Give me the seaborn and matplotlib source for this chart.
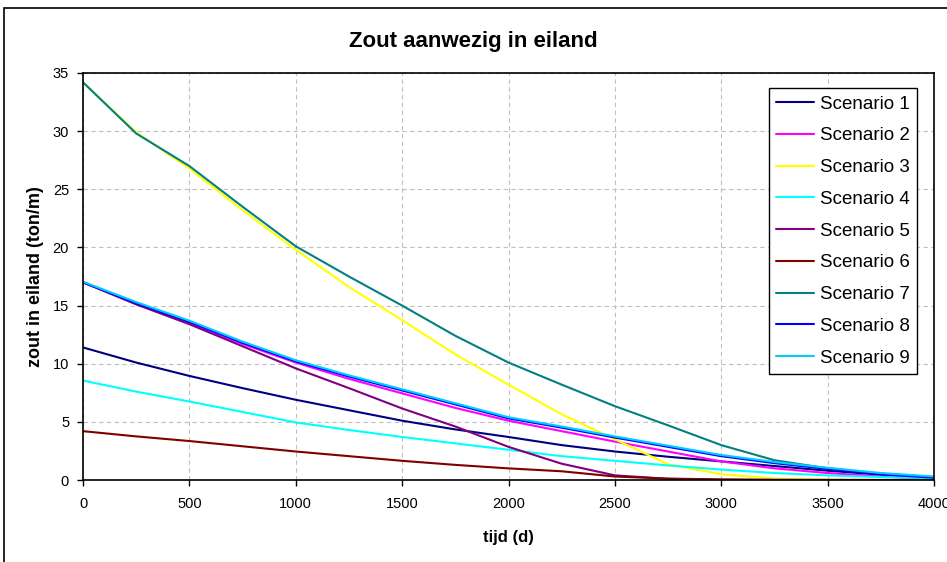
import numpy as np
import pandas as pd
import matplotlib
matplotlib.use('Agg')
import matplotlib.pyplot as plt
from matplotlib.patches import Rectangle
import seaborn as sns

# time axis (days)
tijd = [0, 250, 500, 750, 1000, 1250, 1500, 1750, 2000, 2250, 2500, 2750, 3000, 3250, 3500, 3750, 4000]

# salt in island (ton/m)
scenario_1 = [11.4, 10.1, 8.95, 7.9, 6.9, 6.0, 5.1, 4.35, 3.7, 3.0, 2.45, 2.0, 1.6, 1.2, 0.8, 0.45, 0.15]
scenario_2 = [17.0, 15.2, 13.5, 11.7, 10.1, 8.7, 7.45, 6.2, 5.1, 4.2, 3.3, 2.45, 1.6, 1.0, 0.6, 0.3, 0.1]
scenario_3 = [34.2, 29.9, 26.8, 23.2, 19.8, 16.6, 13.75, 10.8, 8.2, 5.65, 3.5, 1.35, 0.5, 0.12, 0.03, 0.0, 0.0]
scenario_4 = [8.55, 7.6, 6.75, 5.85, 4.95, 4.3, 3.7, 3.15, 2.6, 2.05, 1.65, 1.25, 0.9, 0.6, 0.4, 0.25, 0.15]
scenario_5 = [17.0, 15.1, 13.4, 11.5, 9.6, 7.9, 6.15, 4.6, 2.85, 1.4, 0.4, 0.1, 0.02, 0.0, 0.0, 0.0, 0.0]
scenario_6 = [4.2, 3.75, 3.35, 2.9, 2.45, 2.05, 1.65, 1.3, 1.0, 0.75, 0.3, 0.12, 0.05, 0.02, 0.01, 0.0, 0.0]
scenario_7 = [34.2, 29.8, 27.0, 23.5, 20.1, 17.5, 15.0, 12.4, 10.1, 8.2, 6.35, 4.7, 3.0, 1.7, 1.0, 0.55, 0.25]
scenario_8 = [17.0, 15.2, 13.6, 11.8, 10.2, 8.9, 7.7, 6.5, 5.3, 4.5, 3.65, 2.85, 2.05, 1.45, 0.95, 0.5, 0.2]
scenario_9 = [17.05, 15.3, 13.7, 11.9, 10.3, 9.0, 7.8, 6.6, 5.4, 4.6, 3.75, 2.95, 2.15, 1.55, 1.05, 0.6, 0.3]

labels = ['Scenario %d' % i for i in range(1, 10)]
series = [scenario_1, scenario_2, scenario_3, scenario_4, scenario_5,
          scenario_6, scenario_7, scenario_8, scenario_9]
colors = ['#000080', '#FF00FF', '#FFFF00', '#00FFFF', '#800080',
          '#800000', '#008080', '#0000FF', '#00CCFF']

df = pd.concat([pd.DataFrame({'tijd': tijd, 'zout': s, 'scenario': lab})
                for lab, s in zip(labels, series)], ignore_index=True)

sns.set_style('white')
plt.rcParams['font.family'] = ['Liberation Sans', 'DejaVu Sans']
plt.rcParams['text.color'] = 'black'
plt.rcParams['axes.labelcolor'] = 'black'
plt.rcParams['xtick.color'] = 'black'
plt.rcParams['ytick.color'] = 'black'

fig = plt.figure(figsize=(9.47, 5.62), dpi=100)
ax = fig.add_axes([83 / 947, 1 - 480 / 562, 851 / 947, 407 / 562])

sns.lineplot(data=df, x='tijd', y='zout', hue='scenario', palette=colors,
             linewidth=1.5, ax=ax, legend=True)

ax.set_xlim(0, 4000)
ax.set_ylim(0, 35)
ax.set_xticks(range(0, 4001, 500))
ax.set_yticks(range(0, 36, 5))
ax.grid(True, linestyle=(0, (4, 3)), color='#c0c0c0', linewidth=0.8)
for sp in ax.spines.values():
    sp.set_color('black')
    sp.set_linewidth(1.2)
ax.tick_params(axis='both', which='major', direction='out', length=4, width=1,
               color='black', labelsize=10.5, left=True, bottom=True)
ax.tick_params(axis='x', pad=8)
ax.tick_params(axis='y', pad=6)

ax.set_xlabel('tijd (d)', fontsize=12, fontweight='bold', labelpad=14)
ax.set_ylabel('zout in eiland (ton/m)', fontsize=13, fontweight='bold', labelpad=6)
fig.text(0.5, 1 - 41 / 562, 'Zout aanwezig in eiland', ha='center', va='center',
         fontsize=16, fontweight='bold')

leg = ax.legend(loc='upper right', bbox_to_anchor=(0.98, 0.963), fontsize=13.5,
                frameon=True, fancybox=False, handlelength=2.0, labelspacing=0.78,
                borderpad=0.4, handletextpad=0.3, borderaxespad=0)
leg.get_frame().set_edgecolor('black')
leg.get_frame().set_linewidth(1.0)
leg.get_frame().set_alpha(1)

# outer chart frame
fig.patches.append(Rectangle((4 / 947, -0.1), 1.2, 0.1 + 1 - 8 / 562, transform=fig.transFigure,
                             fill=False, edgecolor='black', linewidth=1.2, zorder=-1))

fig.savefig('out.png', dpi=100)
